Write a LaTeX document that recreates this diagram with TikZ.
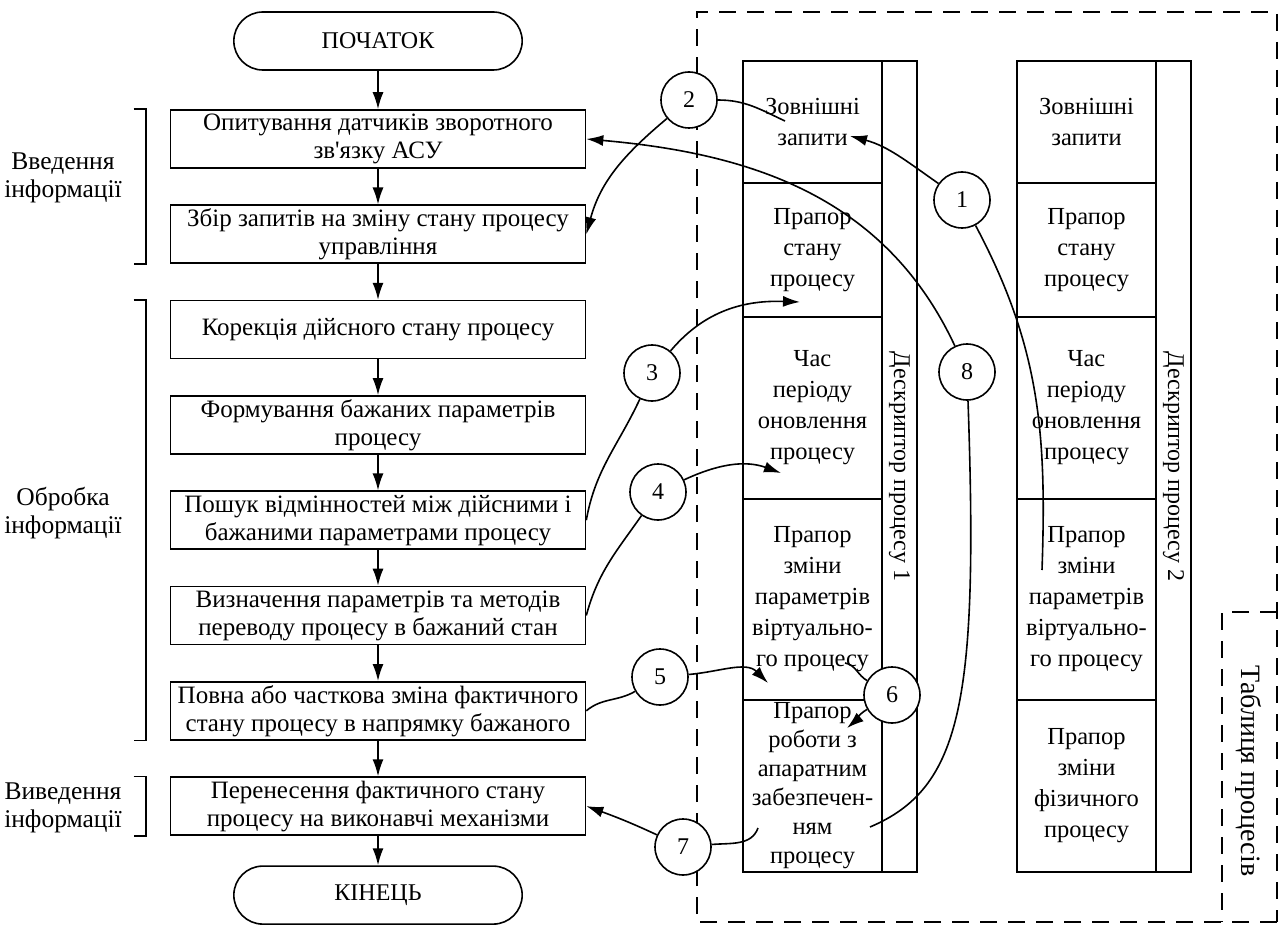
\documentclass[tikz,border=0pt]{standalone}
\usepackage{fontspec}
\setmainfont{Liberation Serif}
\usetikzlibrary{arrows.meta,positioning,shapes.misc}

\begin{document}
\begin{tikzpicture}[
  x=1pt, y=1pt,
  node distance=35.7pt,
  >={Latex[length=17pt,width=11pt]},
  every node/.style={font=\fontsize{24}{28}\selectfont},
  term/.style={rounded rectangle, draw=black, line width=1.6pt, minimum width=295pt, minimum height=58pt},
  proc/.style={rectangle, draw=black, line width=1.6pt, minimum width=415pt, minimum height=58pt, inner sep=2pt, align=center, font=\fontsize{25}{28}\selectfont},
  cell/.style={rectangle, draw=black, line width=1.6pt, outer sep=0pt, minimum width=139pt, inner sep=0pt, align=center, font=\fontsize{24.5}{31}\selectfont},
  strip/.style={rectangle, draw=black, line width=1.6pt, outer sep=0pt, minimum width=35pt, minimum height=811pt, inner sep=0pt},
  num/.style={circle, draw=black, line width=1.6pt, fill=white, minimum size=56pt, inner sep=0pt},
  flow/.style={->, line width=1.6pt},
  link/.style={line width=1.6pt},
  tableframe/.style={line width=1.6pt, dash pattern=on 17pt off 11pt},
  brace/.style={line width=1.6pt}
]
\useasboundingbox (0,0) rectangle (1282,-933);

\draw[tableframe] (1277,-922) -- (697,-922) -- (697,-12) -- (1277,-12) -- cycle;
\draw[tableframe] (1277,-612) -- (1222,-612) -- (1222,-922);
\node[rotate=-90, font=\fontsize{28}{30}\selectfont] (tbl) at (1249,-771) {Таблиця процесів};

\node[term] (start) at (378,-41) {ПОЧАТОК};
\node[proc, below=38.4pt of start] (poll) {Опитування датчиків зворотного\\зв\textquotesingle язку АСУ};
\node[proc, below=of poll] (collect) {Збір запитів на зміну стану процесу\\управління};
\node[proc, below=of collect] (correct) {Корекція дійсного стану процесу};
\node[proc, below=of correct] (desired) {Формування бажаних параметрів\\процесу};
\node[proc, below=of desired] (diff) {Пошук відмінностей між дійсними і\\бажаними параметрами процесу};
\node[proc, below=of diff] (method) {Визначення параметрів та методів\\переводу процесу в бажаний стан};
\node[proc, below=of method] (change) {Повна або часткова зміна фактичного\\стану процесу в напрямку бажаного};
\node[proc, below=of change] (output) {Перенесення фактичного стану\\процесу на виконавчі механізми};
\node[term, below=29.4pt of output] (stop) {КІНЕЦЬ};

\foreach \a/\b in {start/poll, poll/collect, collect/correct, correct/desired, desired/diff, diff/method, method/change, change/output, output/stop}
  \draw[flow] (\a) -- (\b);

\draw[brace] ([xshift=-36pt]poll.north west) -| ([xshift=-24pt]collect.south west) -- ++(-12pt,0);
\draw[brace] ([xshift=-36pt]correct.north west) -| ([xshift=-24pt]change.south west) -- ++(-12pt,0);
\draw[brace] ([xshift=-36pt]output.north west) -| ([xshift=-24pt]output.south west) -- ++(-12pt,0);
\node[align=center, font=\fontsize{25.5}{28}\selectfont] (inlbl) at (63,-178) {Введення\\інформації};
\node[align=center, font=\fontsize{25.5}{28}\selectfont] (proclbl) at (63,-513) {Обробка\\інформації};
\node[align=center, font=\fontsize{25.5}{28}\selectfont] (outlbl) at (63,-808) {Виведення\\інформації};

\node[cell, minimum height=122pt, anchor=north west] (d1q) at (743,-61) {Зовнішні\\запити};
\node[cell, minimum height=134pt, below=0pt of d1q] (d1s) {Прапор\\стану\\процесу};
\node[cell, minimum height=182pt, below=0pt of d1s] (d1t) {Час\\періоду\\оновлення\\процесу};
\node[cell, minimum height=201pt, below=0pt of d1t] (d1v) {Прапор\\зміни\\параметрів\\віртуально-\\го процесу};
\node[cell, minimum height=172pt, below=0pt of d1v, font=\fontsize{24.5}{29}\selectfont] (d1h) {Прапор\\роботи з\\апаратним\\забезпечен-\\ням\\процесу};
\node[strip, anchor=north west] (d1) at (d1q.north east) {\rotatebox{-90}{Дескриптор процесу 1}};

\node[cell, minimum height=122pt, anchor=north west] (d2q) at (1017,-61) {Зовнішні\\запити};
\node[cell, minimum height=134pt, below=0pt of d2q] (d2s) {Прапор\\стану\\процесу};
\node[cell, minimum height=182pt, below=0pt of d2s] (d2t) {Час\\періоду\\оновлення\\процесу};
\node[cell, minimum height=201pt, below=0pt of d2t] (d2v) {Прапор\\зміни\\параметрів\\віртуально-\\го процесу};
\node[cell, minimum height=172pt, below=0pt of d2v] (d2p) {Прапор\\зміни\\фізичного\\процесу};
\node[strip, anchor=north west] (d2) at (d2q.north east) {\rotatebox{-90}{Дескриптор процесу 2}};

\node[num] (n1) at (962,-200) {1};
\node[num] (n2) at (689,-100) {2};
\node[num] (n3) at (652,-373) {3};
\node[num] (n4) at (658,-492) {4};
\node[num] (n5) at (660,-677) {5};
\node[num] (n6) at (892,-695) {6};
\node[num] (n7) at (683,-847) {7};
\node[num] (n8) at (967,-372) {8};

\coordinate (t1) at (850,-136);
\coordinate (s1) at (1042,-570);
\coordinate (s2) at (785,-121);
\coordinate (t3) at (800,-302);
\coordinate (t4) at (781,-473);
\coordinate (t5) at (768,-683);
\coordinate (s6) at (845,-663);
\coordinate (t6) at (847,-728);
\coordinate (s7) at (758,-828);
\coordinate (s8) at (870,-827);

\draw[link] (n1) to[out=-62, in=88] (s1);
\draw[->, link] (n1) to[out=145, in=-15] (t1);
\draw[link] (n2) to[out=0, in=155] (s2);
\draw[->, link] (n2) to[out=-140, in=75] (collect.east);
\draw[link] (diff.east) to[out=80, in=-115] (n3);
\draw[->, link] (n3) to[out=50, in=178] (t3);
\draw[link] (method.east) to[out=75, in=-125] (n4);
\draw[->, link] (n4) to[out=25, in=160] (t4);
\draw[link] (change.east) to[out=40, in=-150] (n5);
\draw[->, link] (n5) to[out=5, in=135] (t5);
\draw[link] (s6) to[out=-10, in=150] (n6);
\draw[->, link] (n6) to[out=-150, in=40] (t6);
\draw[link] (s7) to[out=-110, in=5] (n7);
\draw[->, link] (n7) to[out=155, in=-20] (output.east);
\draw[->, link] (n8) to[out=115, in=-5] (poll.east);
\draw[link] (n8) to[out=-88, in=23, out distance=300pt, in distance=100pt] (s8);
\end{tikzpicture}
\end{document}
